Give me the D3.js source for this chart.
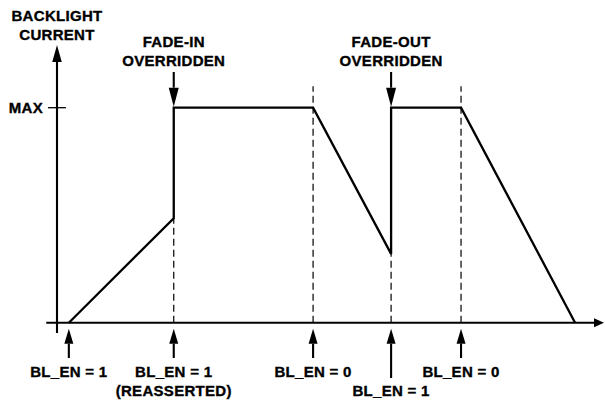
<!DOCTYPE html>
<html>
<head>
<meta charset="utf-8">
<script src="https://cdn.jsdelivr.net/npm/d3@7"></script>
<style>
  html, body { margin: 0; padding: 0; background: #fff; }
  svg { display: block; }
  text { font-family: "Liberation Sans", Arial, Helvetica, sans-serif; font-weight: bold; font-size: 15px; letter-spacing: 0.3px; fill: #000; stroke: #000; stroke-width: 0.35px; }
</style>
</head>
<body>
<svg id="chart" width="605" height="402"></svg>
<script>
// Backlight current profile (time in arbitrary units, current as fraction of MAX)
const profileTime    = [2.2, 21.7, 21.7, 47.6, 62.1, 62.1, 75.1, 96.3];
const profileCurrent = [0,   0.486, 1,   1,    0.32, 1,    1,    0];

// BL_EN transitions along the time axis
const eventTime   = [2.2, 21.7, 47.6, 62.1, 75.1];
const eventLabels = [["BL_EN = 1"], ["BL_EN = 1", "(REASSERTED)"], ["BL_EN = 0"], ["BL_EN = 1"], ["BL_EN = 0"]];
const eventLabelRow = [0, 0, 0, 1, 0];

// Dashed reference lines: time, lower and upper current level
const guideTime  = [21.7, 47.6, 62.1, 75.1];
const guideFrom  = [0, 0, 0, 0];
const guideTo    = [0.486, 1.1, 0.32, 1.1];

// Override annotations above the trace
const overrideTime   = [21.7, 62.1];
const overrideLabels = [["FADE-IN", "OVERRIDDEN"], ["FADE-OUT", "OVERRIDDEN"]];

const yTickLabels = ["MAX"];
const yTickValues = [1];

const svg = d3.select("#chart");
const x = d3.scaleLinear().domain([0, 100]).range([57, 595]);
const y = d3.scaleLinear().domain([0, 1]).range([322.7, 107.7]);

function arrow(x1, y1, x2, y2, hw, hl) {
  // shaft plus filled triangular head pointing at (x2, y2)
  const a = Math.atan2(y2 - y1, x2 - x1);
  const bx = x2 - hl * Math.cos(a), by = y2 - hl * Math.sin(a);
  svg.append("line").attr("x1", x1).attr("y1", y1).attr("x2", bx).attr("y2", by)
    .attr("stroke", "#000").attr("stroke-width", 2.1);
  const px = -Math.sin(a) * hw / 2, py = Math.cos(a) * hw / 2;
  svg.append("path")
    .attr("d", `M${x2},${y2} L${bx + px},${by + py} L${bx - px},${by - py} Z`)
    .attr("fill", "#000");
}

// Dashed guides
svg.selectAll("line.guide").data(guideTime).enter().append("line")
  .attr("class", "guide")
  .attr("x1", d => x(d)).attr("x2", d => x(d))
  .attr("y1", (d, i) => y(guideFrom[i])).attr("y2", (d, i) => y(guideTo[i]))
  .attr("stroke", "#000").attr("stroke-width", 1.2).attr("stroke-dasharray", "7,4");

// Axes
const xAxisY = y(0);
arrow(x(-2), xAxisY, 604, xAxisY, 9, 10);
arrow(x(0), y(0) + 10.3, x(0), 45, 9.5, 17);

// MAX tick
svg.selectAll("line.ytick").data(yTickValues).enter().append("line")
  .attr("class", "ytick")
  .attr("x1", x(0) - 9).attr("x2", x(0) + 9)
  .attr("y1", d => y(d)).attr("y2", d => y(d))
  .attr("stroke", "#000").attr("stroke-width", 1.3);
svg.selectAll("text.ytick").data(yTickValues).enter().append("text")
  .attr("class", "ytick")
  .attr("x", x(0) - 14).attr("y", d => y(d) + 5.5)
  .attr("text-anchor", "end")
  .text((d, i) => yTickLabels[i]);

// Y axis title
svg.append("text").attr("x", x(0)).attr("y", 21).attr("text-anchor", "middle").text("BACKLIGHT");
svg.append("text").attr("x", x(0)).attr("y", 40).attr("text-anchor", "middle").text("CURRENT");

// Current trace
const pts = profileTime.map((t, i) => [x(t), y(profileCurrent[i])]);
svg.append("path")
  .attr("d", d3.line()(pts))
  .attr("fill", "none").attr("stroke", "#000").attr("stroke-width", 2.3)
  .attr("stroke-linejoin", "miter");

// Override arrows and labels
overrideTime.forEach((t, i) => {
  arrow(x(t), 72, x(t), y(1) - 1, 10, 19);
  overrideLabels[i].forEach((s, j) => {
    svg.append("text").attr("x", x(t)).attr("y", 47 + j * 18.5)
      .attr("text-anchor", "middle").text(s);
  });
});

// BL_EN event arrows and labels
eventTime.forEach((t, i) => {
  const row = eventLabelRow[i];
  const bottom = row === 0 ? 358 : 378;
  arrow(x(t), bottom, x(t), xAxisY + 6, 9, 15);
  eventLabels[i].forEach((s, j) => {
    svg.append("text").attr("x", x(t)).attr("y", 377 + (row + j) * 18.5)
      .attr("text-anchor", "middle").text(s);
  });
});
</script>
</body>
</html>
